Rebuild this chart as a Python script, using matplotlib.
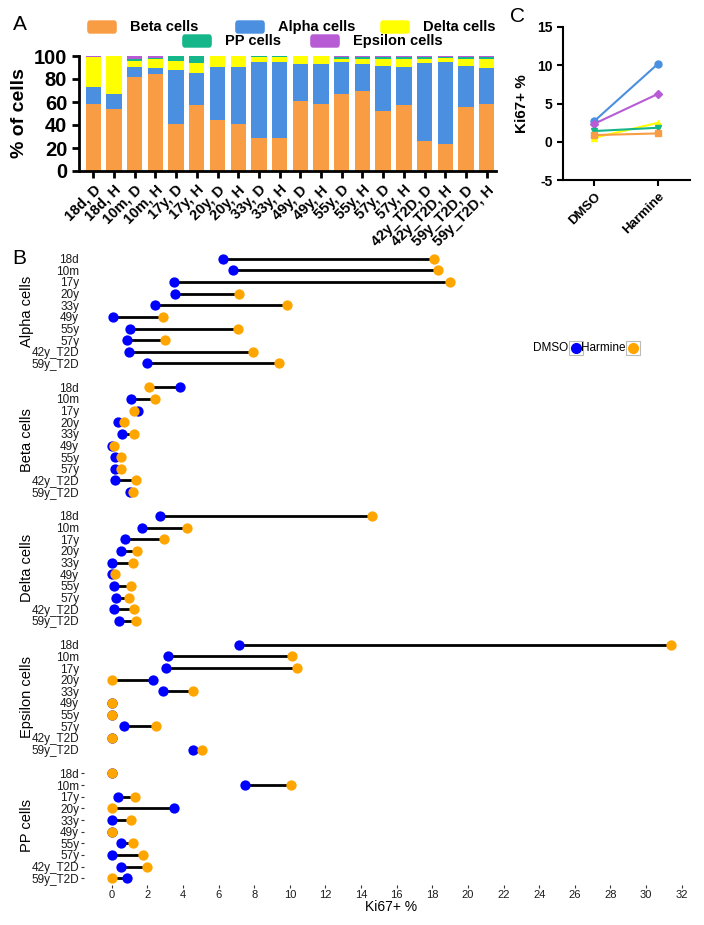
import numpy as np
import matplotlib
matplotlib.use("Agg")
import matplotlib.pyplot as plt
from matplotlib.patches import FancyBboxPatch, Rectangle
from matplotlib.lines import Line2D

plt.rcParams["font.family"] = ["Liberation Sans", "DejaVu Sans"]
plt.rcParams["axes.unicode_minus"] = False

# =========================
# Panel A data (% of cells)
# =========================
samples = ["18d, D", "18d, H", "10m, D", "10m, H", "17y, D", "17y, H",
           "20y, D", "20y, H", "33y, D", "33y, H", "49y, D", "49y, H",
           "55y, D", "55y, H", "57y, D", "57y, H", "42y_T2D, D", "42y_T2D, H",
           "59y_T2D, D", "59y_T2D, H"]
beta_pct = [58, 54, 82, 84, 41, 57, 44, 41, 29, 29, 61, 58, 67, 70, 52.5, 57, 26, 23.5, 55.5, 58]
alpha_pct = [15, 12.7, 8.4, 5.3, 46.5, 28, 46.4, 49.1, 65.8, 66.1, 32, 35, 28, 23, 39.1, 33.4, 67.9, 71.3, 35.5, 31.6]
delta_pct = [25.8, 33, 5, 8.1, 7.9, 8.9, 9.6, 9.9, 4.3, 4, 7, 7, 2.5, 4.7, 5.8, 7.3, 3.2, 3.2, 6.4, 7.8]
pp_pct = [0, 0, 1.7, 0.9, 4.6, 6.1, 0, 0, 0.9, 0.9, 0, 0, 2, 1.8, 2.1, 1.8, 2.4, 1.5, 2.1, 2.1]
eps_pct = [1.2, 0.3, 2.9, 1.7, 0, 0, 0, 0, 0, 0, 0, 0, 0.5, 0.5, 0.5, 0.5, 0.5, 0.5, 0.5, 0.5]

# =========================
# Panel B data (Ki67+ %)
# =========================
donors = ["18d", "10m", "17y", "20y", "33y", "49y", "55y", "57y", "42y_T2D", "59y_T2D"]
groups = ["Alpha cells", "Beta cells", "Delta cells", "Epsilon cells", "PP cells"]
dmso = {
    "Alpha cells": [6.25, 6.8, 3.48, 3.54, 2.45, 0.09, 1.03, 0.84, 0.99, 1.98],
    "Beta cells": [3.82, 1.1, 1.46, 0.37, 0.6, 0.03, 0.17, 0.2, 0.17, 1.03],
    "Delta cells": [2.7, 1.7, 0.77, 0.52, 0.03, 0.0, 0.11, 0.22, 0.13, 0.39],
    "Epsilon cells": [7.13, 3.15, 3.05, 2.3, 2.88, 0.0, 0.0, 0.71, 0.0, 4.58],
    "PP cells": [0.0, 7.47, 0.35, 3.48, 0.03, 0.0, 0.54, 0.03, 0.52, 0.86],
}
harmine = {
    "Alpha cells": [18.1, 18.3, 19.0, 7.15, 9.83, 2.9, 7.1, 3.0, 7.94, 9.4],
    "Beta cells": [2.11, 2.43, 1.27, 0.69, 1.25, 0.13, 0.5, 0.5, 1.36, 1.2],
    "Delta cells": [14.6, 4.23, 2.94, 1.44, 1.2, 0.19, 1.07, 0.95, 1.24, 1.36],
    "Epsilon cells": [31.4, 10.1, 10.4, 0.03, 4.58, 0.03, 0.03, 2.47, 0.03, 5.05],
    "PP cells": [0.03, 10.05, 1.31, 0.03, 1.07, 0.03, 1.2, 1.74, 1.97, 0.03],
}

# =========================
# Panel C data (mean Ki67+ %)
# =========================
conditions = ["DMSO", "Harmine"]
c_alpha = [2.7, 10.2]
c_epsilon = [2.35, 6.26]
c_delta = [0.52, 2.48]
c_pp = [1.4, 1.83]
c_beta = [0.87, 1.09]

col = {"beta": "#F99D45", "alpha": "#4A8FE0", "delta": "#FFFF00",
       "pp": "#14B68A", "eps": "#B85CD6"}

W, H = 704, 925
fig = plt.figure(figsize=(W / 100, H / 100), dpi=100)


def px_axes(left, top, right, bottom):
    return fig.add_axes([left / W, 1 - bottom / H, (right - left) / W, (bottom - top) / H])


# =========================
# Panel A
# =========================
axA = px_axes(79, 56, 496, 171)
x = np.arange(len(samples))
bottom = np.zeros(len(samples))
for vals, c in [(beta_pct, col["beta"]), (alpha_pct, col["alpha"]), (delta_pct, col["delta"]),
                (pp_pct, col["pp"]), (eps_pct, col["eps"])]:
    axA.bar(x, vals, bottom=bottom, width=0.74, color=c, linewidth=0)
    bottom += np.array(vals)
axA.set_xlim(-0.69, 19.45)
axA.set_ylim(0, 100)
axA.set_yticks([0, 20, 40, 60, 80, 100])
axA.set_xticks(x)
axA.set_xticklabels(samples, rotation=45, ha="right", rotation_mode="anchor",
                    fontsize=10.5, fontweight="bold")
for lab in axA.get_yticklabels():
    lab.set_fontweight("bold")
    lab.set_fontsize(14.5)
axA.set_ylabel("% of cells", fontsize=14, fontweight="bold", labelpad=4)
for s in ["top", "right"]:
    axA.spines[s].set_visible(False)
for s in ["left", "bottom"]:
    axA.spines[s].set_linewidth(2)
axA.tick_params(width=2, length=5)

# legend for A (drawn by hand, rounded keys)
leg_items = [("Beta cells", col["beta"], 87, 27), ("Alpha cells", col["alpha"], 235, 27),
             ("Delta cells", col["delta"], 380, 27), ("PP cells", col["pp"], 182, 41),
             ("Epsilon cells", col["eps"], 310, 41)]
for name, c, lx, ly in leg_items:
    fig.add_artist(FancyBboxPatch(((lx + 3) / W, 1 - (ly + 3) / H), 24 / W, 6 / H,
                                  boxstyle="round,pad=0.004", transform=fig.transFigure,
                                  facecolor=c, edgecolor="none"))
    fig.text((lx + 43) / W, 1 - ly / H, name, fontsize=10.5, fontweight="bold",
             va="center", ha="left")

fig.text(13 / W, 1 - 25 / H, "A", fontsize=15, va="center")

# =========================
# Panel C
# =========================
axC = px_axes(563, 27, 690, 180)
xc = np.arange(len(conditions))
for vals, c, m in [(c_alpha, col["alpha"], "o"), (c_epsilon, col["eps"], "D"),
                   (c_delta, col["delta"], "^"), (c_pp, col["pp"], "v"),
                   (c_beta, col["beta"], "s")]:
    axC.plot(xc, vals, color=c, marker=m, markersize=5 if m != "D" else 4,
             linewidth=1.5)
axC.set_xlim(-0.49, 1.5)
axC.set_ylim(-5, 15)
axC.set_yticks([-5, 0, 5, 10, 15])
axC.set_xticks(xc)
axC.set_xticklabels(conditions, rotation=45, ha="right", rotation_mode="anchor",
                    fontsize=9.5, fontweight="bold")
for lab in axC.get_yticklabels():
    lab.set_fontweight("bold")
    lab.set_fontsize(10)
axC.set_ylabel("Ki67+ %", fontsize=11, fontweight="bold", labelpad=6)
for s in ["top", "right"]:
    axC.spines[s].set_visible(False)
for s in ["left", "bottom"]:
    axC.spines[s].set_linewidth(1.5)
axC.tick_params(width=1.5, length=4)
fig.text(510 / W, 1 - 17 / H, "C", fontsize=15, va="center")

# =========================
# Panel B (dumbbell plots)
# =========================
row_h = 11.65
group_pitch = 128.7
first_row = 258.6
yrows = np.arange(len(donors))
for g, grp in enumerate(groups):
    top = first_row + g * group_pitch - 0.6 * row_h
    ax = px_axes(84, top, 699, top + 10.2 * row_h)
    d = dmso[grp]
    h = harmine[grp]
    for i in range(len(donors)):
        ax.plot([d[i], h[i]], [yrows[i], yrows[i]], color="black", linewidth=2, zorder=1)
    ax.scatter(d, yrows, s=55, color="#0000FF", zorder=2, linewidths=0)
    ax.scatter(h, yrows, s=55, color="#FFA500", zorder=3, linewidths=0)
    ax.set_ylim(9.6, -0.6)
    ax.set_xlim(-1.555, 32.97)
    ax.set_yticks(yrows)
    ax.set_yticklabels(donors, fontsize=8.5, color="#1a1a1a")
    for s in ax.spines.values():
        s.set_visible(False)
    ax.set_xticks(np.arange(0, 33, 2))
    if grp == "PP cells":
        ax.tick_params(axis="y", length=2, width=0.8, color="#333333", pad=1.5)
        ax.tick_params(axis="x", length=2, width=0.8, color="#333333", labelsize=8,
                       labelcolor="#1a1a1a", pad=1.5)
        ax.set_xlabel("Ki67+ %", fontsize=10, labelpad=0)
    else:
        ax.tick_params(axis="y", length=0, pad=3.5)
        ax.tick_params(axis="x", length=0, labelbottom=False)
    yc = top + 5.1 * row_h
    fig.text(27 / W, 1 - yc / H, grp, rotation=90, fontsize=10.5, va="center", ha="center")

fig.text(12 / W, 1 - 258 / H, "B", fontsize=15, va="center")

# legend for B (labels left of keys)
ly = 348
for name, c, tx, kx in [("DMSO", "#0000FF", 568, 569), ("Harmine", "#FFA500", 625, 626)]:
    fig.text(tx / W, 1 - ly / H, name, fontsize=8.5, ha="right", va="center")
    fig.add_artist(Rectangle((kx / W, 1 - (ly + 7) / H), 14 / W, 14 / H,
                             transform=fig.transFigure, facecolor="white",
                             edgecolor="#bbbbbb", linewidth=0.8))
    fig.add_artist(Line2D([(kx + 7) / W], [1 - ly / H], marker="o", markersize=7,
                          color=c, transform=fig.transFigure, linestyle="none"))

fig.savefig("out.png", dpi=100)
